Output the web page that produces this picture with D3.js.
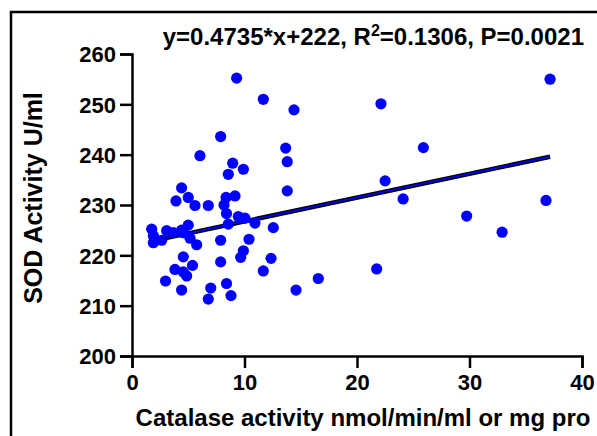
<!DOCTYPE html>
<html>
<head>
<meta charset="utf-8">
<script src="https://cdn.jsdelivr.net/npm/d3@7"></script>
<style>
    body { margin: 0; background: #fff; }
    svg text { font-family: "Liberation Sans", Arial, sans-serif; font-weight: bold; fill: #000; }
</style>
</head>
<body>
<svg id="chart" width="597" height="436"></svg>
<script>
// Catalase activity (x) and SOD activity (y)
const catalase = [9.3, 11.67, 7.88, 6.04, 8.95, 9.9, 8.56, 4.41, 3.91, 5.0,
    5.6, 6.78, 8.36, 9.16, 8.18, 13.66, 8.4, 9.45, 10.04, 10.93,
    8.56, 12.56, 1.75, 3.08, 3.67, 4.41, 5.0, 1.9, 2.64, 4.56,
    5.16, 5.75, 7.88, 10.4, 9.9, 9.66, 4.56, 7.88, 12.36, 11.67,
    3.82, 4.56, 5.38, 4.86, 2.98, 4.41, 7.0, 6.78, 8.4, 8.8,
    37.16, 14.4, 22.13, 13.8, 25.9, 13.8, 22.5, 24.1, 36.8, 29.75,
    32.9, 21.75, 16.56, 14.58, 1.9];
const sod = [255.2, 251.0, 243.6, 239.8, 238.3, 237.1, 236.1, 233.4, 230.8, 231.5,
    229.9, 229.9, 231.5, 231.8, 230.0, 241.3, 228.3, 227.7, 227.4, 226.4,
    226.2, 225.5, 225.2, 224.9, 224.5, 225.0, 226.0, 222.5, 223.0, 224.5,
    223.4, 222.1, 223.0, 223.2, 220.9, 219.6, 219.7, 218.7, 219.4, 216.9,
    217.2, 216.7, 218.0, 215.9, 214.9, 213.1, 213.5, 211.3, 214.4, 212.0,
    255.0, 248.9, 250.1, 238.6, 241.4, 232.8, 234.8, 231.2, 230.9, 227.8,
    224.6, 217.3, 215.4, 213.1, 223.9];

const xTicks = [0, 10, 20, 30, 40];
const yTicks = [200, 210, 220, 230, 240, 250, 260];

// Fit given on the chart
const slope = 0.4735;
const intercept = 222;
const statText = 'y=0.4735*x+222, R';
const statSup = '2';
const statRest = '=0.1306, P=0.0021';

const svg = d3.select('#chart');

// Outer frame (top and left edges visible)
svg.append('path')
    .attr('d', 'M11,440 L11,12 L600,12')
    .attr('fill', 'none')
    .attr('stroke', '#000')
    .attr('stroke-width', 2.5);

const xScale = d3.scaleLinear().domain([0, 40]).range([132, 582]);
const yScale = d3.scaleLinear().domain([200, 260]).range([356, 54]);

// Axes
const xAxis = d3.axisBottom(xScale).tickValues(xTicks).tickSize(12).tickPadding(6);
const yAxis = d3.axisLeft(yScale).tickValues(yTicks).tickSize(12).tickPadding(4);

const gx = svg.append('g').attr('transform', 'translate(0,356)').call(xAxis);
const gy = svg.append('g').attr('transform', 'translate(132,0)').call(yAxis);

[gx, gy].forEach(g => {
    g.select('.domain').attr('stroke', '#000').attr('stroke-width', 2.5);
    g.selectAll('.tick line').attr('stroke', '#000').attr('stroke-width', 2.5);
    g.selectAll('.tick text')
        .style('font-family', '"Liberation Sans", Arial, sans-serif')
        .style('font-weight', 'bold')
        .style('font-size', '22px')
        .attr('fill', '#000');
});
gy.selectAll('.tick text').attr('dy', '0.36em');

// Regression line, from smallest to largest x
const xMin = d3.min(catalase), xMax = d3.max(catalase);
const lineData = [xMin, xMax].map(v => [xScale(v), yScale(slope * v + intercept)]);
svg.append('path')
    .attr('d', d3.line()(lineData))
    .attr('stroke', '#000').attr('stroke-width', 4.5).attr('fill', 'none');
svg.append('path')
    .attr('d', d3.line()(lineData))
    .attr('stroke', '#0000ff').attr('stroke-width', 1.8).attr('fill', 'none');

// Points
svg.append('g').selectAll('circle')
    .data(catalase.map((v, i) => [v, sod[i]]))
    .enter()
    .append('circle')
        .attr('cx', d => xScale(d[0]))
        .attr('cy', d => yScale(d[1]))
        .attr('r', 5.6)
        .attr('fill', '#0000ff');

// Fit text
const stat = svg.append('text')
    .attr('x', 584).attr('y', 45)
    .attr('text-anchor', 'end')
    .style('font-size', '24px');
stat.append('tspan').text(statText);
stat.append('tspan').attr('dy', -9).style('font-size', '16px').text(statSup);
stat.append('tspan').attr('dy', 9).text(statRest);

// Axis titles
svg.append('text')
    .attr('x', 363).attr('y', 426)
    .attr('text-anchor', 'middle')
    .style('font-size', '24px')
    .text('Catalase activity nmol/min/ml or mg pro');

svg.append('text')
    .attr('transform', 'translate(42,198) rotate(-90)')
    .attr('text-anchor', 'middle')
    .style('font-size', '25px')
    .text('SOD Activity U/ml');
</script>
</body>
</html>
